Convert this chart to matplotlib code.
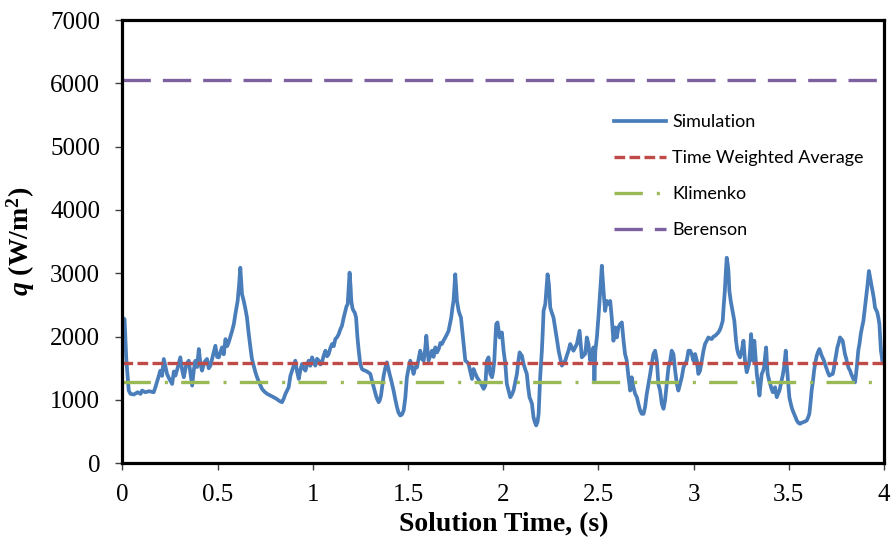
import matplotlib
matplotlib.use("Agg")
import matplotlib.pyplot as plt

# heat flux trace from the simulation, (time [s], q [W/m2])
time_s = [
    0.004, 0.011, 0.020, 0.033, 0.042, 0.060, 0.080, 0.095, 0.103, 0.120,
    0.140, 0.164, 0.173, 0.186, 0.199, 0.208, 0.217, 0.226, 0.234, 0.248,
    0.261, 0.270, 0.278, 0.291, 0.304, 0.313, 0.322, 0.335, 0.348, 0.357,
    0.366, 0.375, 0.383, 0.392, 0.401, 0.410, 0.418, 0.431, 0.444, 0.453,
    0.462, 0.475, 0.488, 0.497, 0.506, 0.515, 0.523, 0.532, 0.541, 0.550,
    0.558, 0.567, 0.576, 0.585, 0.593, 0.605, 0.612, 0.619, 0.624, 0.628,
    0.637, 0.645, 0.654, 0.663, 0.672, 0.680, 0.689, 0.698, 0.707, 0.720,
    0.733, 0.746, 0.760, 0.777, 0.794, 0.808, 0.821, 0.830, 0.838, 0.847,
    0.856, 0.865, 0.873, 0.882, 0.891, 0.900, 0.908, 0.917, 0.926, 0.935,
    0.943, 0.952, 0.961, 0.970, 0.978, 0.987, 0.996, 1.004, 1.013, 1.022,
    1.031, 1.040, 1.048, 1.057, 1.066, 1.075, 1.083, 1.092, 1.101, 1.110,
    1.118, 1.127, 1.136, 1.145, 1.153, 1.162, 1.171, 1.177, 1.183, 1.188,
    1.193, 1.198, 1.202, 1.208, 1.214, 1.220, 1.227, 1.234, 1.241, 1.249,
    1.258, 1.267, 1.276, 1.289, 1.302, 1.311, 1.320, 1.327, 1.334, 1.340,
    1.346, 1.352, 1.358, 1.365, 1.372, 1.380, 1.389, 1.396, 1.403, 1.412,
    1.424, 1.433, 1.442, 1.450, 1.459, 1.468, 1.477, 1.486, 1.494, 1.503,
    1.512, 1.520, 1.529, 1.538, 1.547, 1.556, 1.564, 1.573, 1.582, 1.590,
    1.596, 1.602, 1.608, 1.617, 1.626, 1.634, 1.643, 1.652, 1.661, 1.670,
    1.678, 1.687, 1.696, 1.705, 1.713, 1.720, 1.727, 1.733, 1.739, 1.744,
    1.748, 1.752, 1.757, 1.762, 1.766, 1.772, 1.778, 1.785, 1.792, 1.801,
    1.810, 1.818, 1.827, 1.836, 1.844, 1.853, 1.862, 1.870, 1.879, 1.888,
    1.897, 1.906, 1.914, 1.923, 1.932, 1.941, 1.947, 1.953, 1.958, 1.963,
    1.970, 1.976, 1.981, 1.987, 1.993, 2.002, 2.011, 2.019, 2.028, 2.037,
    2.045, 2.054, 2.063, 2.072, 2.079, 2.086, 2.092, 2.098, 2.107, 2.116,
    2.124, 2.131, 2.138, 2.145, 2.151, 2.159, 2.166, 2.173, 2.180, 2.186,
    2.190, 2.194, 2.203, 2.208, 2.212, 2.221, 2.227, 2.233, 2.240, 2.247,
    2.255, 2.264, 2.271, 2.278, 2.285, 2.291, 2.300, 2.308, 2.317, 2.326,
    2.334, 2.343, 2.352, 2.360, 2.369, 2.378, 2.387, 2.394, 2.401, 2.407,
    2.413, 2.421, 2.430, 2.435, 2.439, 2.444, 2.448, 2.452, 2.457, 2.465,
    2.474, 2.479, 2.484, 2.492, 2.500, 2.507, 2.513, 2.518, 2.527, 2.535,
    2.544, 2.553, 2.562, 2.570, 2.579, 2.588, 2.597, 2.605, 2.614, 2.623,
    2.632, 2.640, 2.649, 2.658, 2.667, 2.675, 2.684, 2.693, 2.702, 2.710,
    2.719, 2.728, 2.737, 2.745, 2.754, 2.763, 2.772, 2.780, 2.789, 2.798,
    2.807, 2.815, 2.824, 2.833, 2.842, 2.850, 2.859, 2.868, 2.877, 2.885,
    2.894, 2.903, 2.912, 2.920, 2.929, 2.938, 2.947, 2.955, 2.964, 2.973,
    2.982, 2.990, 2.999, 3.008, 3.017, 3.025, 3.034, 3.043, 3.052, 3.060,
    3.069, 3.078, 3.087, 3.095, 3.104, 3.113, 3.122, 3.130, 3.137, 3.143,
    3.153, 3.158, 3.164, 3.169, 3.174, 3.179, 3.183, 3.188, 3.195, 3.200,
    3.206, 3.214, 3.223, 3.229, 3.235, 3.244, 3.253, 3.262, 3.270, 3.279,
    3.285, 3.291, 3.297, 3.302, 3.307, 3.311, 3.315, 3.319, 3.326, 3.332,
    3.339, 3.346, 3.352, 3.358, 3.364, 3.370, 3.376, 3.381, 3.385, 3.389,
    3.396, 3.402, 3.409, 3.416, 3.422, 3.428, 3.432, 3.437, 3.444, 3.451,
    3.457, 3.463, 3.469, 3.475, 3.480, 3.484, 3.488, 3.493, 3.498, 3.503,
    3.509, 3.515, 3.521, 3.528, 3.535, 3.542, 3.550, 3.559, 3.568, 3.577,
    3.585, 3.594, 3.601, 3.608, 3.614, 3.620, 3.627, 3.633, 3.640, 3.647,
    3.654, 3.661, 3.667, 3.673, 3.679, 3.685, 3.692, 3.699, 3.706, 3.713,
    3.722, 3.731, 3.737, 3.743, 3.749, 3.755, 3.762, 3.769, 3.776, 3.783,
    3.789, 3.795, 3.802, 3.808, 3.815, 3.822, 3.829, 3.836, 3.842, 3.848,
    3.853, 3.857, 3.861, 3.865, 3.872, 3.878, 3.885, 3.892, 3.899, 3.906,
    3.910, 3.914, 3.918, 3.921, 3.926, 3.930, 3.935, 3.940, 3.947, 3.953,
    3.959, 3.965, 3.971, 3.976, 3.980, 3.984, 3.988, 3.991, 3.996,
]
heat_flux = [
    2290, 2276, 1650, 1148, 1096, 1086, 1122, 1096, 1148, 1122,
    1138, 1122, 1201, 1330, 1463, 1380, 1647, 1520, 1411, 1320,
    1253, 1450, 1384, 1520, 1673, 1480, 1358, 1560, 1620, 1420,
    1227, 1480, 1620, 1520, 1804, 1560, 1463, 1600, 1647, 1500,
    1542, 1700, 1856, 1680, 1673, 1760, 1830, 1720, 1961, 1850,
    1909, 2000, 2092, 2200, 2354, 2564, 2800, 3088, 2850, 2669,
    2564, 2450, 2302, 2050, 1830, 1650, 1542, 1440, 1358, 1260,
    1175, 1130, 1096, 1070, 1043, 1020, 991, 975, 965, 1020,
    1096, 1150, 1201, 1380, 1463, 1550, 1620, 1450, 1332, 1480,
    1568, 1500, 1463, 1560, 1620, 1540, 1673, 1600, 1542, 1650,
    1620, 1560, 1594, 1700, 1778, 1690, 1725, 1820, 1883, 1850,
    1961, 1990, 2040, 2120, 2171, 2300, 2407, 2480, 2512, 2750,
    3010, 2800, 2564, 2450, 2407, 2380, 2302, 2000, 1778, 1568,
    1489, 1470, 1463, 1440, 1411, 1300, 1201, 1120, 1043, 1000,
    965, 1000, 1070, 1230, 1384, 1500, 1594, 1500, 1411, 1306,
    1148, 1010, 886, 800, 755, 770, 834, 1043, 1358, 1500,
    1620, 1520, 1411, 1520, 1515, 1650, 1778, 1650, 1620, 1800,
    2014, 1800, 1620, 1700, 1778, 1680, 1830, 1750, 1804, 1900,
    1883, 1940, 1987, 2040, 2092, 2200, 2302, 2450, 2564, 2800,
    2984, 2800, 2564, 2480, 2407, 2350, 2302, 2100, 1883, 1620,
    1600, 1568, 1450, 1332, 1489, 1420, 1358, 1320, 1280, 1230,
    1175, 1227, 1620, 1673, 1411, 1358, 1450, 1620, 1900, 2197,
    2224, 2100, 1987, 2030, 2066, 1778, 1568, 1253, 1150, 1043,
    1080, 1148, 1280, 1411, 1600, 1751, 1720, 1699, 1568, 1480,
    1411, 1200, 1043, 990, 939, 729, 650, 598, 650, 781,
    1050, 1358, 1778, 2100, 2407, 2512, 2750, 2984, 2826, 2459,
    2380, 2302, 2170, 2040, 1900, 1778, 1650, 1542, 1580, 1620,
    1700, 1778, 1883, 1830, 1778, 1830, 1883, 1990, 2092, 1880,
    1673, 1700, 1725, 1850, 1987, 1930, 1883, 1750, 1620, 1720,
    1830, 1306, 1778, 1990, 2302, 2600, 2879, 3120, 2721, 2407,
    2564, 2512, 2564, 2302, 1935, 2145, 1987, 2145, 2197, 2224,
    1935, 1725, 1620, 1358, 1148, 1358, 1201, 1096, 1043, 939,
    834, 781, 781, 886, 1096, 1253, 1411, 1568, 1725, 1778,
    1620, 1253, 1148, 939, 860, 991, 1253, 1515, 1620, 1778,
    1725, 1463, 1253, 1148, 1253, 1358, 1515, 1568, 1620, 1778,
    1778, 1725, 1620, 1725, 1620, 1411, 1463, 1620, 1778, 1883,
    1935, 1987, 1970, 1961, 2000, 2014, 2040, 2066, 2100, 2145,
    2250, 2480, 2721, 3000, 3246, 3150, 3036, 2721, 2564, 2480,
    2381, 2250, 1935, 1800, 1725, 1673, 1778, 1935, 1620, 1437,
    1500, 1568, 1800, 2040, 1800, 1620, 1780, 1935, 1650, 1411,
    1250, 1070, 1250, 1411, 1450, 1515, 1700, 1830, 1600, 1411,
    1320, 1253, 1180, 1122, 1160, 1201, 1120, 1043, 1100, 1148,
    1230, 1306, 1400, 1515, 1650, 1778, 1600, 1411, 1200, 1043,
    960, 886, 830, 781, 730, 676, 640, 624, 640, 650,
    660, 676, 720, 781, 950, 1148, 1300, 1463, 1600, 1699,
    1760, 1804, 1750, 1699, 1660, 1620, 1550, 1489, 1430, 1384,
    1400, 1411, 1500, 1620, 1720, 1830, 1900, 1987, 1960, 1935,
    1830, 1725, 1650, 1568, 1500, 1463, 1400, 1358, 1310, 1279,
    1400, 1515, 1650, 1778, 1900, 2040, 2150, 2250, 2430, 2617,
    2720, 2826, 2950, 3036, 2950, 2879, 2800, 2721, 2600, 2459,
    2420, 2381, 2290, 2197, 2000, 1778, 1700, 1620, 1600,
]

# constant reference levels
t_range = [0, 4]
time_weighted_avg = 1590
klimenko = 1290
berenson = 6050

plt.rcParams["mathtext.fontset"] = "custom"
plt.rcParams["mathtext.rm"] = "Liberation Serif:bold"
plt.rcParams["mathtext.it"] = "Liberation Serif:bold:italic"

fig = plt.figure(figsize=(8.92, 5.48), dpi=100)
ax = fig.add_axes([0.1373, 0.1546, 0.8537, 0.8089])

ax.plot(time_s, heat_flux, color="#4A7EBB", lw=2.7, label="Simulation",
        solid_joinstyle="round")
ax.plot(t_range, [time_weighted_avg] * 2, color="#BE4B48", lw=2.4,
        dashes=(3.2, 1.3), dash_capstyle="butt", label="Time Weighted Average")
ax.plot(t_range, [klimenko] * 2, color="#98B954", lw=2.4,
        dashes=(8.5, 4.2, 0.9, 4.0), dash_capstyle="butt", label="Klimenko")
ax.plot(t_range, [berenson] * 2, color="#7D60A0", lw=2.4,
        dashes=(8.5, 3.6), dash_capstyle="butt", label="Berenson")

ax.set_xlim(0, 4)
ax.set_ylim(0, 7000)
ax.set_xticks([0, 0.5, 1, 1.5, 2, 2.5, 3, 3.5, 4])
ax.set_xticklabels(["0", "0.5", "1", "1.5", "2", "2.5", "3", "3.5", "4"])
ax.set_yticks(range(0, 7001, 1000))

for side in ax.spines.values():
    side.set_linewidth(2.3)
    side.set_color("black")

ax.tick_params(axis="both", direction="out", length=5, width=1, color="#404040")
ax.tick_params(axis="x", pad=10)
ax.tick_params(axis="y", pad=11)
for lbl in ax.get_xticklabels() + ax.get_yticklabels():
    lbl.set_fontfamily("Liberation Serif")
    lbl.set_fontsize(18)

ax.set_xlabel("Solution Time, (s)", fontfamily="Liberation Serif",
              fontweight="bold", fontsize=20)
ax.xaxis.set_label_coords(0.501, -0.111)
ax.set_ylabel(r"$q$ (W/m$^{2}$)", fontfamily="Liberation Serif",
              fontweight="bold", fontsize=20)
ax.yaxis.set_label_coords(-0.112, 0.5)

ax.legend(loc="upper left", bbox_to_anchor=(0.645, 0.787), frameon=False,
          prop={"family": "Lato", "size": 13}, handlelength=2.9,
          handletextpad=0.35, labelspacing=1.1, borderaxespad=0, borderpad=0)

fig.savefig("out.png", dpi=100)
